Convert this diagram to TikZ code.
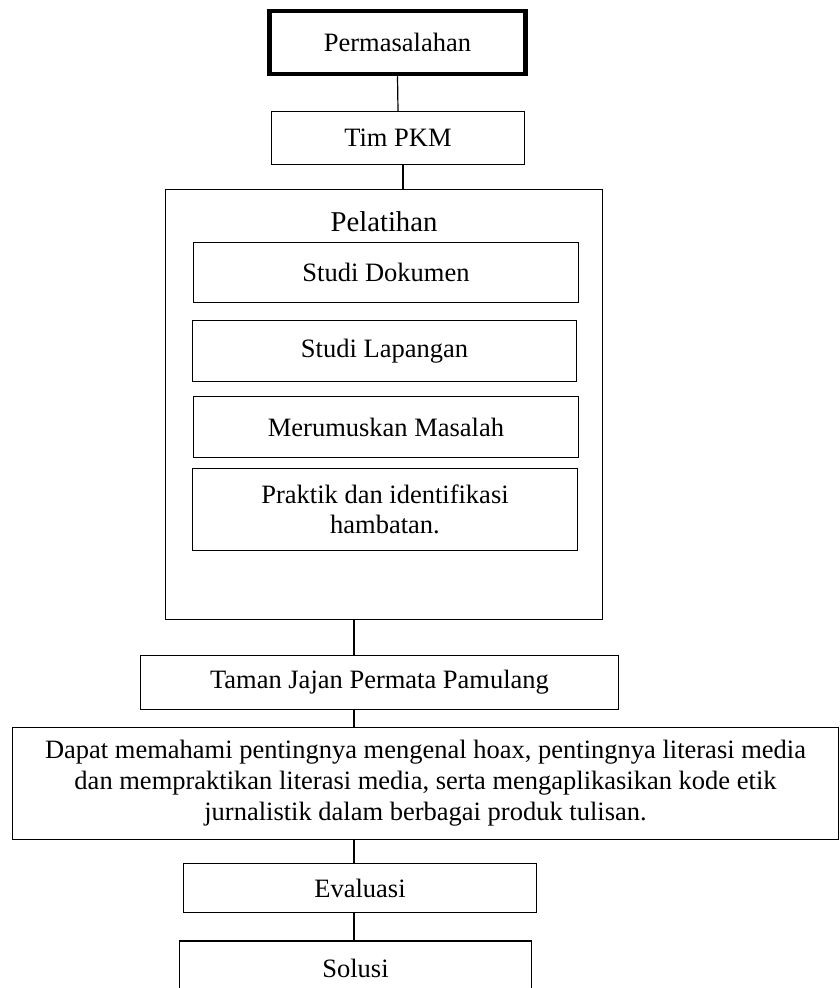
\documentclass[tikz,border=0pt]{standalone}
\usepackage{fontspec}
\setmainfont{Liberation Serif}
\usetikzlibrary{positioning}

\tikzset{
  kotak/.style={draw, line width=1.2pt, inner sep=0pt, align=center,
    font=\fontsize{26.5}{31}\selectfont},
}

\begin{document}
\begin{tikzpicture}[x=1pt, y=-1pt, line width=1.2pt]
            \useasboundingbox (0,0) rectangle (840,988);

            % Permasalahan dan Tim PKM
            \node[kotak, line width=4.5pt, minimum width=256pt, minimum height=63pt] (perm) at (397.5,42.5) {Permasalahan};
            \node[kotak, minimum width=253pt, minimum height=53pt] (tim) at (398,138) {Tim PKM};

            % Pelatihan
            \node[kotak, minimum width=437pt, minimum height=430pt] (pel) at (384,404.5) {};
            \node[font=\fontsize{28.7}{33}\selectfont, inner sep=0pt] (pellab) at (384,222) {Pelatihan};
            \node[kotak, minimum width=385pt, minimum height=60pt] (sdok) at (386,272.5) {Studi Dokumen};
            \node[kotak, minimum width=384pt, minimum height=61pt] (slap) at (384.5,351) {Studi Lapangan};
            \node[kotak, minimum width=385pt, minimum height=61pt] (mrm) at (386,427) {Merumuskan Masalah};
            \node[kotak, minimum width=385pt, minimum height=82pt, font=\fontsize{26.5}{30}\selectfont] (prk) at (385,509.5) {Praktik dan identifikasi\\hambatan.};

            % Hasil
            \node[kotak, minimum width=478pt, minimum height=54pt] (tjp) at (379.5,682.5) {Taman Jajan Permata Pamulang};
            \node[kotak, minimum width=826pt, minimum height=112pt] (dpt) at (425.5,783.5) {Dapat memahami pentingnya mengenal hoax, pentingnya literasi media\\dan mempraktikan literasi media, serta mengaplikasikan kode etik\\jurnalistik dalam berbagai produk tulisan.};
            \node[kotak, minimum width=353pt, minimum height=49pt] (eva) at (360,888) {Evaluasi};
            \node[kotak, minimum width=352pt, minimum height=54pt] (sol) at (355.5,968) {Solusi};

            % Garis penghubung
            \coordinate (jalur) at (354,0);
            \draw (perm.south) -- (tim.north);
            \draw ([xshift=5pt]tim.south) -- ([xshift=5pt]tim.south |- pel.north);
            \draw (pel.south -| jalur) -- (tjp.north -| jalur);
            \draw (tjp.south -| jalur) -- (dpt.north -| jalur);
            \draw (dpt.south -| jalur) -- (eva.north -| jalur);
            \draw (eva.south -| jalur) -- (sol.north -| jalur);
\end{tikzpicture}
\end{document}
